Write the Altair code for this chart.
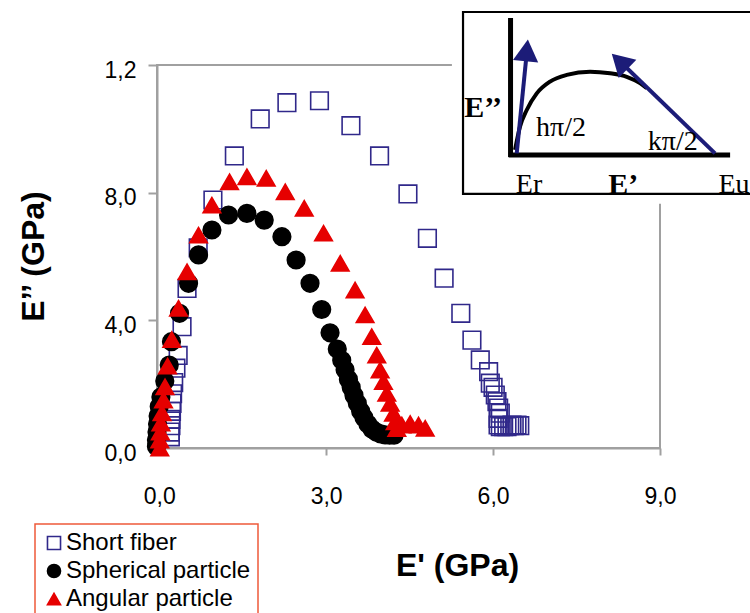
import altair as alt
import pandas as pd

# ---------------- data ----------------
series_names = ["Short fiber", "Spherical particle", "Angular particle"]

short_x = [0.20, 0.20, 0.21, 0.21, 0.22, 0.23, 0.24, 0.26, 0.30, 0.34, 0.41, 0.50, 0.70, 0.965,
           1.35, 1.815, 2.295, 2.88, 3.445, 3.96, 4.47, 4.82, 5.12, 5.42, 5.62, 5.77, 5.92, 5.95,
           6.00, 6.04, 6.07, 6.10, 6.13, 6.09, 6.09, 6.13, 6.19, 6.25, 6.30, 6.34, 6.38, 6.43, 6.48]
short_y = [0.035, 0.05, 0.07, 0.09, 0.115, 0.14, 0.17, 0.205, 0.25, 0.29, 0.38, 0.50, 0.627, 0.777,
           0.915, 1.031, 1.082, 1.088, 1.01, 0.915, 0.796, 0.657, 0.532, 0.422, 0.338, 0.276, 0.239, 0.203,
           0.19, 0.166, 0.145, 0.125, 0.109, 0.093, 0.072, 0.067, 0.067, 0.067, 0.07, 0.072, 0.07, 0.072, 0.07]

sph_x = [-0.05, -0.05, -0.04, -0.03, -0.02, 0.0, 0.03, 0.10, 0.18, 0.22, 0.365, 0.527, 0.707, 0.947,
         1.246, 1.576, 1.887, 2.205, 2.46, 2.71, 2.92, 3.07, 3.20, 3.28, 3.34, 3.40, 3.45, 3.50, 3.56,
         3.62, 3.68, 3.75, 3.82, 3.90, 3.98, 4.06, 4.14, 4.22]
sph_y = [0.005, 0.025, 0.05, 0.075, 0.10, 0.13, 0.16, 0.21, 0.26, 0.333, 0.422, 0.516, 0.605, 0.683,
         0.730, 0.735, 0.714, 0.662, 0.589, 0.516, 0.434, 0.361, 0.31, 0.275, 0.245, 0.215, 0.19, 0.165, 0.14,
         0.115, 0.095, 0.075, 0.06, 0.05, 0.044, 0.041, 0.04, 0.04]

ang_x = [0.01, 0.01, 0.02, 0.03, 0.05, 0.077, 0.104, 0.15, 0.226, 0.347, 0.50, 0.707, 0.947, 1.264,
         1.576, 1.923, 2.265, 2.606, 2.953, 3.253, 3.52, 3.70, 3.82, 3.91, 3.97, 4.03, 4.09, 4.15, 4.21,
         4.24, 4.27, 4.36, 4.51, 4.66, 4.78]
ang_y = [0.0, 0.025, 0.05, 0.078, 0.11, 0.15, 0.192, 0.257, 0.34, 0.438, 0.552, 0.667, 0.761, 0.834,
         0.850, 0.845, 0.803, 0.751, 0.673, 0.579, 0.495, 0.417, 0.349, 0.291, 0.244, 0.208, 0.171, 0.14, 0.109,
         0.082, 0.061, 0.072, 0.077, 0.072, 0.062]

x_tick_vals = [0, 3, 6, 9]
x_tick_labels = ["0,0", "3,0", "6,0", "9,0"]
y_tick_vals = [0, 0.4, 0.8, 1.2]
y_tick_labels = ["0,0", "4,0", "8,0", "1,2"]

# inset schematic (drawn in the main chart's data units)
inset_bg_x = [5.26]; inset_bg_x2 = [10.7]; inset_bg_y = [1.41]; inset_bg_y2 = [0.765]
inset_box_x = [5.46]; inset_box_x2 = [10.66]; inset_box_y = [1.366]; inset_box_y2 = [0.796]
inset_axes_x = [6.314, 6.28]; inset_axes_x2 = [6.314, 10.26]
inset_axes_y = [1.347, 0.918]; inset_axes_y2 = [0.912, 0.918]
curve_x = [6.395, 6.485, 6.605, 6.785, 7.024, 7.324, 7.743, 8.102, 8.402, 8.641, 8.762]
curve_y = [0.934, 1.007, 1.059, 1.111, 1.148, 1.169, 1.179, 1.174, 1.163, 1.143, 1.127]
arrow_x = [6.425, 9.989]; arrow_x2 = [6.611, 8.269]
arrow_y = [0.923, 0.923]; arrow_y2 = [1.2484, 1.2133]
head_x = [6.605, 8.275]; head_y = [1.246, 1.2115]; head_angle = [6, 314]
inset_text = ["E’’", "hπ/2", "kπ/2", "Er", "E’", "Eu"]
inset_text_x = [5.82, 7.22, 9.23, 6.647, 8.34, 10.33]
inset_text_y = [1.065, 1.0015, 0.9596, 0.825, 0.825, 0.825]
inset_text_bold = [True, False, False, False, True, False]

# ---------------- build tables ----------------
rows = []
for name, xs, ys in zip(series_names, [short_x, sph_x, ang_x], [short_y, sph_y, ang_y]):
    for a, b in zip(xs, ys):
        rows.append({"series": name, "x": a, "y": b})
pts = pd.DataFrame(rows)


def label_expr(vals, labels):
    expr = "''"
    for v, l in reversed(list(zip(vals, labels))):
        expr = f"abs(datum.value - {v}) < 1e-6 ? '{l}' : ({expr})"
    return expr


GRAY = "#a0a0a0"
SANS = "Liberation Sans"
SERIF = "Liberation Serif"

xscale = alt.Scale(domain=[-0.04, 9], nice=False, zero=False)
yscale = alt.Scale(domain=[0, 1.2], nice=False, zero=False)

xaxis = alt.Axis(values=x_tick_vals, labelExpr=label_expr(x_tick_vals, x_tick_labels),
                 grid=False, tickSize=7, tickColor=GRAY, tickWidth=2, domainColor=GRAY, domainWidth=2,
                 labelFont=SANS, labelFontSize=23, labelColor="black", labelPadding=30,
                 labelBaseline="top", labelFlush=False,
                 title="E' (GPa)", titleFont=SANS, titleFontSize=32, titleFontWeight="bold",
                 titleColor="black", titleX=300, titleY=117, titleBaseline="middle", titleAlign="center")
yaxis = alt.Axis(values=y_tick_vals, labelExpr=label_expr(y_tick_vals, y_tick_labels),
                 grid=False, tickSize=9, tickColor=GRAY, tickWidth=2, domainColor=GRAY, domainWidth=2,
                 labelFont=SANS, labelFontSize=23, labelColor="black", labelPadding=12,
                 labelBaseline="middle", labelOffset=5, labelFlush=False,
                 title="E’’ (GPa)", titleFont=SANS, titleFontSize=32, titleFontWeight="bold",
                 titleColor="black", titleX=-124, titleY=191, titleBaseline="middle",
                 titleAlign="center", titleAngle=270)


def X(f="x"):
    return alt.X(f"{f}:Q", scale=xscale, axis=xaxis)


def Y(f="y"):
    return alt.Y(f"{f}:Q", scale=yscale, axis=yaxis)


leg = alt.Legend(title=None, orient="none", legendX=-122, legendY=459, zindex=5,
                 strokeColor="#ee5a3a", padding=7, symbolSize=170,
                 symbolStrokeWidth=1.6, labelFont=SANS, labelFontSize=24, labelColor="black",
                 labelOffset=0, rowPadding=4, fillColor="white", labelLimit=400)

points = alt.Chart(pts).mark_point(strokeWidth=1.6, opacity=1, fillOpacity=1, size=310).encode(
    x=X(), y=Y(),
    shape=alt.Shape("series:N", scale=alt.Scale(domain=series_names,
                                                 range=["square", "circle", "triangle-up"]), legend=leg),
    fill=alt.Fill("series:N", scale=alt.Scale(domain=series_names,
                                               range=["transparent", "black", "#e60000"]), legend=leg),
    stroke=alt.Stroke("series:N", scale=alt.Scale(domain=series_names,
                                                   range=["#30288a", "black", "#e60000"]), legend=leg),
)

bg = alt.Chart(pd.DataFrame({"x": inset_bg_x, "x2": inset_bg_x2, "y": inset_bg_y, "y2": inset_bg_y2})).mark_rect(
    fill="white").encode(x=X(), x2="x2:Q", y=Y(), y2="y2:Q")
box = alt.Chart(pd.DataFrame({"x": inset_box_x, "x2": inset_box_x2, "y": inset_box_y, "y2": inset_box_y2})).mark_rect(
    fill="white", stroke="black", strokeWidth=2.2).encode(x=X(), x2="x2:Q", y=Y(), y2="y2:Q")
iaxes = alt.Chart(pd.DataFrame({"x": inset_axes_x, "x2": inset_axes_x2, "y": inset_axes_y,
                                "y2": inset_axes_y2})).mark_rule(color="black", strokeWidth=5).encode(
    x=X(), x2="x2:Q", y=Y(), y2="y2:Q")
curve = alt.Chart(pd.DataFrame({"x": curve_x, "y": curve_y, "i": list(range(len(curve_x)))})).mark_line(
    color="black", strokeWidth=4, interpolate="monotone").encode(x=X(), y=Y(), order="i:Q")
arrows = alt.Chart(pd.DataFrame({"x": arrow_x, "x2": arrow_x2, "y": arrow_y, "y2": arrow_y2})).mark_rule(
    color="#1c1c78", strokeWidth=4).encode(x=X(), x2="x2:Q", y=Y(), y2="y2:Q")
heads = alt.Chart(pd.DataFrame({"x": head_x, "y": head_y, "a": head_angle})).mark_point(
    shape="triangle-up", filled=True, fill="#1c1c78", opacity=1, size=640, strokeWidth=0).encode(
    x=X(), y=Y(), angle=alt.Angle("a:Q", scale=None))
tdf = pd.DataFrame({"x": inset_text_x, "y": inset_text_y, "t": inset_text,
                    "w": ["bold" if b else "normal" for b in inset_text_bold]})
texts_n = alt.Chart(tdf[tdf.w == "normal"]).mark_text(font=SERIF, fontSize=28, color="black",
                                                      align="center", baseline="middle").encode(
    x=X(), y=Y(), text="t:N")
texts_b = alt.Chart(tdf[tdf.w == "bold"]).mark_text(font=SERIF, fontSize=30, fontWeight="bold",
                                                    color="black", align="center", baseline="middle").encode(
    x=X(), y=Y(), text="t:N")

chart = alt.layer(points, bg, box, iaxes, curve, arrows, heads, texts_n, texts_b).properties(
    width=503, height=383,
    autosize=alt.AutoSizeParams(type="none"),
    padding={"left": 157, "top": 65, "right": 90, "bottom": 165},
    background="white",
).configure_view(stroke=GRAY, strokeWidth=2).configure_legend(strokeWidth=1.5)

chart.save("out.html", embed_options={"renderer": "svg", "actions": False})
